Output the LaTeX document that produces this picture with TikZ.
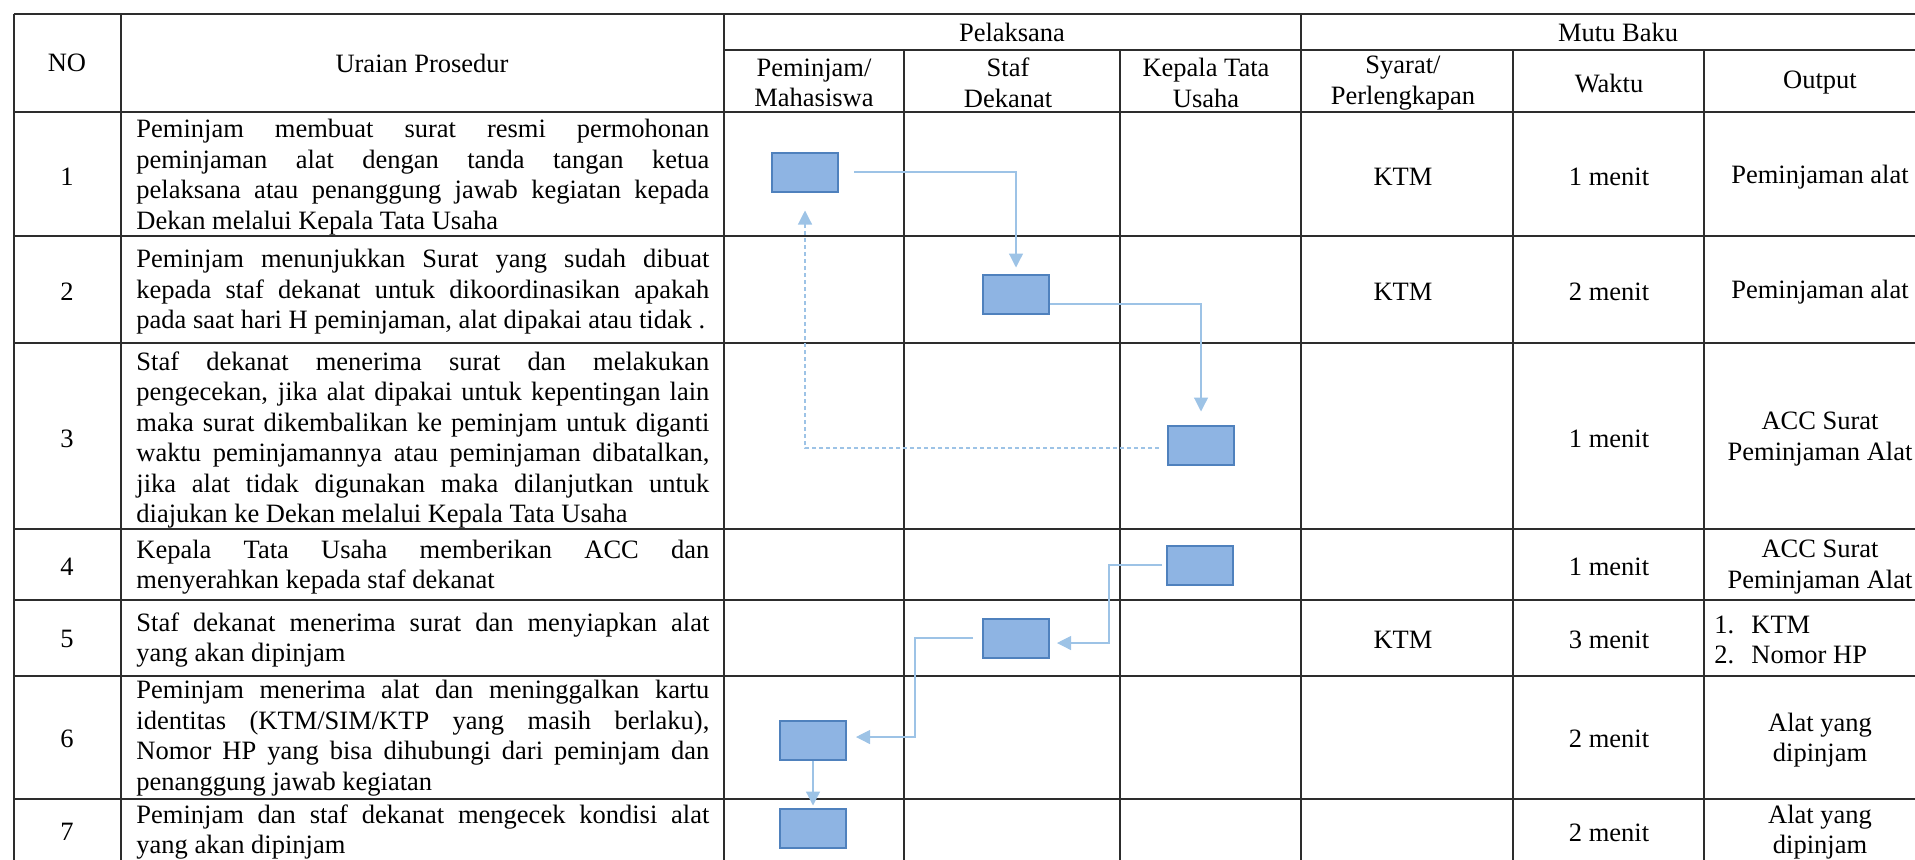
\documentclass[tikz,border=0pt]{standalone}
\usepackage{fontspec}
\setmainfont{Liberation Serif}
\usetikzlibrary{arrows.meta,calc}
\definecolor{tline}{RGB}{45,45,45}
\definecolor{connc}{RGB}{157,195,230}
\definecolor{boxf}{RGB}{142,180,227}
\definecolor{boxd}{RGB}{79,129,189}
\newcommand{\jl}[1]{\makebox[286.5pt][s]{#1}}
\newcommand{\li}[1]{\makebox[18.5pt][l]{#1}}
\begin{document}
\begin{tikzpicture}[x=0.5pt,y=-0.5pt,
  grid/.style={draw=tline,line width=1pt},
  txt/.style={inner sep=0pt,align=center,font=\fontsize{13.25}{15.25}\selectfont},
  desc/.style={inner sep=0pt,anchor=west,align=left,font=\fontsize{13.25}{15.25}\selectfont},
  pbox/.style={draw=boxd,fill=boxf,line width=1pt,minimum width=33pt,minimum height=19.5pt,inner sep=0pt},
  conn/.style={draw=connc,line width=0.6pt,-{Triangle[length=7pt,width=7pt]}},
  connd/.style={conn,dash pattern=on 2pt off 1.5pt},
]
\useasboundingbox (0,0) rectangle (1915,859);
\clip (0,0) rectangle (1915,859);
% table grid
\foreach \yy in {14,112,236,343,529,600,676,799}
  \draw[grid] (13.5,\yy) -- (1940,\yy);
\draw[grid] (724,50) -- (1940,50);
\foreach \xx in {13.5,121,724,1301}
  \draw[grid] (\xx,14) -- (\xx,870);
\foreach \xx in {904,1120,1513,1704}
  \draw[grid] (\xx,50) -- (\xx,870);
% header
\node[txt] (hno) at (67,63) {NO};
\node[txt] (hur) at (422,63) {Uraian Prosedur};
\node[txt] (hpel) at (1012,32) {Pelaksana};
\node[txt] (hmutu) at (1618,32) {Mutu Baku};
\node[txt] (hpem) at (814,83) {Peminjam/\\Mahasiswa};
\node[txt] (hstaf) at (1008,83) {Staf\\Dekanat};
\node[txt] (hktu) at (1206,83) {Kepala Tata\\Usaha};
\node[txt] (hsy) at (1403,83) {Syarat/\\Perlengkapan};
\node[txt] (hwk) at (1609,83) {Waktu};
\node[txt] (hout) at (1820,83) {Output};
% numbers
\node[txt] (n1) at (67,177) {1};
\node[txt] (n2) at (67,292) {2};
\node[txt] (n3) at (67,439) {3};
\node[txt] (n4) at (67,567) {4};
\node[txt] (n5) at (67,639) {5};
\node[txt] (n6) at (67,739) {6};
\node[txt] (n7) at (67,832) {7};
% descriptions
\node[desc] (d1) at (136,177) {\jl{Peminjam membuat surat resmi permohonan}\\\jl{peminjaman alat dengan tanda tangan ketua}\\\jl{pelaksana atau penanggung jawab kegiatan kepada}\\Dekan melalui Kepala Tata Usaha};
\node[desc] (d2) at (136,292) {\jl{Peminjam menunjukkan Surat yang sudah dibuat}\\\jl{kepada staf dekanat untuk dikoordinasikan apakah}\\pada saat hari H peminjaman, alat dipakai atau tidak .};
\node[desc] (d3) at (136,440) {\jl{Staf dekanat menerima surat dan melakukan}\\\jl{pengecekan, jika alat dipakai untuk kepentingan lain}\\\jl{maka surat dikembalikan ke peminjam untuk diganti}\\\jl{waktu peminjamannya atau peminjaman dibatalkan,}\\\jl{jika alat tidak digunakan maka dilanjutkan untuk}\\diajukan ke Dekan melalui Kepala Tata Usaha};
\node[desc] (d4) at (136,567) {\jl{Kepala Tata Usaha memberikan ACC dan}\\menyerahkan kepada staf dekanat};
\node[desc] (d5) at (136,640) {\jl{Staf dekanat menerima surat dan menyiapkan alat}\\yang akan dipinjam};
\node[desc] (d6) at (136,738) {\jl{Peminjam menerima alat dan meninggalkan kartu}\\\jl{identitas (KTM/SIM/KTP yang masih berlaku),}\\\jl{Nomor HP yang bisa dihubungi dari peminjam dan}\\penanggung jawab kegiatan};
\node[desc] (d7) at (136,832) {\jl{Peminjam dan staf dekanat mengecek kondisi alat}\\yang akan dipinjam};
% syarat
\node[txt] (s1) at (1403,177) {KTM};
\node[txt] (s2) at (1403,292) {KTM};
\node[txt] (s5) at (1403,640) {KTM};
% waktu
\node[txt] (w1) at (1609,177) {1 menit};
\node[txt] (w2) at (1609,292) {2 menit};
\node[txt] (w3) at (1609,439) {1 menit};
\node[txt] (w4) at (1609,567) {1 menit};
\node[txt] (w5) at (1609,640) {3 menit};
\node[txt] (w6) at (1609,739) {2 menit};
\node[txt] (w7) at (1609,833) {2 menit};
% output
\node[txt] (o1) at (1820,177) {Peminjaman alat};
\node[txt] (o2) at (1820,292) {Peminjaman alat};
\node[txt] (o3) at (1820,439) {ACC Surat\\Peminjaman Alat};
\node[txt] (o4) at (1820,567) {ACC Surat\\Peminjaman Alat};
\node[txt,anchor=west,align=left] (o5) at (1714,640) {\li{1.}KTM\\\li{2.}Nomor HP};
\node[txt] (o6) at (1820,740) {Alat yang\\dipinjam};
\node[txt] (o7) at (1820,832) {Alat yang\\dipinjam};
% flow boxes
\node[pbox] (b1) at (805,172) {};
\node[pbox] (b2) at (1016,294) {};
\node[pbox] (b3) at (1201,445) {};
\node[pbox] (b4) at (1200,565) {};
\node[pbox] (b5) at (1016,638) {};
\node[pbox] (b6) at (813,740) {};
\node[pbox] (b7) at (813,828) {};
% connectors
\draw[conn,shorten <=7.5pt,shorten >=3pt] (b1.east) -| (b2.north);
\draw[conn,shorten >=6.5pt] ($(b2.east)+(0,10)$) -| (b3.north);
\draw[connd,shorten <=4pt,shorten >=9pt] ($(b3.west)+(0,3)$) -| (b1.south);
\draw[conn,shorten <=2pt,shorten >=3.5pt] (b4.west) -- ($(b4.west)+(-57,0)$) |- ($(b5.east)+(0,5)$);
\draw[conn,shorten <=4.5pt,shorten >=4.5pt] (b5.west) -- ($(b5.west)+(-67,0)$) |- ($(b6.east)+(0,-3)$);
\draw[conn,shorten >=1pt] (b6.south) -- (b7.north);
\end{tikzpicture}
\end{document}
